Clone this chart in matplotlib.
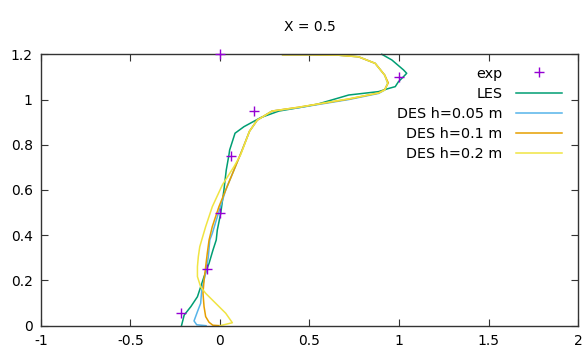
import matplotlib
matplotlib.use("Agg")
import matplotlib.pyplot as plt

# experimental points
exp_x = [0.0, 1.0, 0.19, 0.06, 0.0, -0.07, -0.22]
exp_y = [1.2, 1.1, 0.95, 0.75, 0.5, 0.25, 0.057]

# LES profile (bottom to top)
les_x = [-0.215, -0.20, -0.163, -0.126, -0.089, -0.061, -0.039, -0.021, -0.015, 0.004,
         0.022, 0.035, 0.05, 0.054, 0.084, 0.134, 0.227, 0.329, 0.44, 0.542, 0.719,
         0.886, 0.942, 0.979, 0.997, 1.025, 1.043, 1.025, 0.96, 0.904]
les_y = [0.0, 0.047, 0.084, 0.128, 0.217, 0.276, 0.335, 0.379, 0.423, 0.497,
         0.6, 0.688, 0.755, 0.777, 0.851, 0.88, 0.92, 0.949, 0.964, 0.979, 1.02,
         1.035, 1.049, 1.057, 1.079, 1.101, 1.116, 1.131, 1.175, 1.2]

# DES h=0.05 m
d05_x = [-0.078, -0.13, -0.145, -0.126, -0.108, -0.102, -0.089, -0.076, -0.065, -0.057,
         -0.043, -0.009, 0.032, 0.078, 0.124, 0.165, 0.208, 0.291, 0.44, 0.719, 0.886,
         0.92, 0.937, 0.92, 0.867, 0.774, 0.663, 0.5, 0.35]
d05_y = [0.0, 0.004, 0.021, 0.062, 0.099, 0.158, 0.202, 0.246, 0.305, 0.379,
         0.408, 0.497, 0.6, 0.688, 0.777, 0.86, 0.909, 0.949, 0.964, 1.0, 1.027,
         1.042, 1.072, 1.108, 1.16, 1.189, 1.196, 1.198, 1.198]

# DES h=0.1 m
d10_x = [0.0, -0.04, -0.061, -0.08, -0.089, -0.095, -0.089, -0.08, -0.071, -0.061,
         -0.043, -0.006, 0.032, 0.078, 0.124, 0.165, 0.208, 0.291, 0.44, 0.719, 0.886,
         0.92, 0.94, 0.92, 0.867, 0.774, 0.663, 0.5, 0.35]
d10_y = [0.0, 0.002, 0.015, 0.04, 0.084, 0.143, 0.202, 0.261, 0.32, 0.379,
         0.438, 0.526, 0.6, 0.688, 0.777, 0.86, 0.909, 0.949, 0.966, 1.002, 1.029,
         1.044, 1.074, 1.108, 1.16, 1.189, 1.196, 1.198, 1.198]

# DES h=0.2 m
d20_x = [0.0, 0.069, 0.032, -0.024, -0.08, -0.108, -0.126, -0.126, -0.121, -0.113,
         -0.102, -0.08, -0.043, 0.013, 0.078, 0.115, 0.165, 0.208, 0.291, 0.44, 0.719,
         0.886, 0.92, 0.937, 0.92, 0.867, 0.774, 0.663, 0.5, 0.35]
d20_y = [0.0, 0.013, 0.055, 0.099, 0.143, 0.172, 0.217, 0.261, 0.305, 0.349,
         0.379, 0.438, 0.526, 0.622, 0.703, 0.755, 0.86, 0.909, 0.949, 0.966, 1.003,
         1.029, 1.042, 1.072, 1.108, 1.16, 1.189, 1.196, 1.198, 1.198]

labels = ["exp", "LES", "DES h=0.05 m", "DES h=0.1 m", "DES h=0.2 m"]
colors = ["#9400d3", "#009e73", "#56b4e9", "#e69f00", "#f0e442"]

plt.rcParams["font.family"] = ["DejaVu Sans"]
fig = plt.figure(figsize=(5.87, 3.54), dpi=100)
ax = fig.add_axes([0.0698, 0.08, 0.9149, 0.7666])

ax.plot(les_x, les_y, color=colors[1], lw=1.1, label=labels[1], clip_on=False)
ax.plot(d05_x, d05_y, color=colors[2], lw=1.1, label=labels[2], clip_on=False)
ax.plot(d10_x, d10_y, color=colors[3], lw=1.1, label=labels[3], clip_on=False)
ax.plot(d20_x, d20_y, color=colors[4], lw=1.1, label=labels[4], clip_on=False)
ax.plot(exp_x, exp_y, "+", color=colors[0], ms=7, mew=1, ls="none", label=labels[0],
        zorder=5, clip_on=False)

ax.set_xlim(-1, 2)
ax.set_ylim(0, 1.2)
ax.set_xticks([-1, -0.5, 0, 0.5, 1, 1.5, 2])
ax.set_xticklabels(["-1", "-0.5", "0", "0.5", "1", "1.5", "2"])
ax.set_yticks([0, 0.2, 0.4, 0.6, 0.8, 1, 1.2])
ax.set_yticklabels(["0", "0.2", "0.4", "0.6", "0.8", "1", "1.2"])
ax.tick_params(direction="in", length=5, width=0.8, top=True, right=True,
               labelsize=10, colors="#333333", labelcolor="black", pad=6)
for s in ax.spines.values():
    s.set_color("#333333")
    s.set_linewidth(1)

ax.set_title("X = 0.5", fontsize=10, pad=17)

handles, labs = ax.get_legend_handles_labels()
order = [4, 0, 1, 2, 3]
leg = ax.legend([handles[i] for i in order], [labs[i] for i in order],
                loc="upper right", bbox_to_anchor=(0.97, 0.955), frameon=False,
                markerfirst=False, fontsize=10.4, handlelength=3.2, handletextpad=0.9,
                labelspacing=0.42, borderpad=0, borderaxespad=0)

fig.savefig("out.png", dpi=100)
